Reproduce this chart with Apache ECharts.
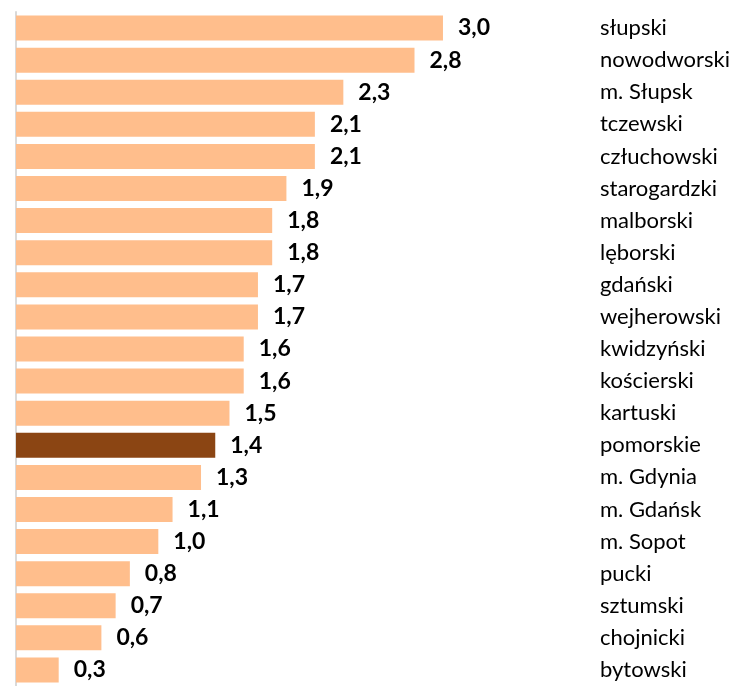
<!DOCTYPE html>
<html>
<head>
<meta charset="utf-8">
<script src="https://cdn.jsdelivr.net/npm/echarts@6/dist/echarts.min.js"></script>
<style>
  html, body { margin: 0; padding: 0; background: #ffffff; }
  #chart { width: 733px; height: 686px; }
</style>
</head>
<body>
<div id="chart"></div>
<script>
// Powiaty województwa pomorskiego, wartości wskaźnika
const categories = [
  'słupski', 'nowodworski', 'm. Słupsk', 'tczewski', 'człuchowski',
  'starogardzki', 'malborski', 'lęborski', 'gdański', 'wejherowski',
  'kwidzyński', 'kościerski', 'kartuski', 'pomorskie', 'm. Gdynia',
  'm. Gdańsk', 'm. Sopot', 'pucki', 'sztumski', 'chojnicki', 'bytowski'
];
const values = [
  3.0, 2.8, 2.3, 2.1, 2.1,
  1.9, 1.8, 1.8, 1.7, 1.7,
  1.6, 1.6, 1.5, 1.4, 1.3,
  1.1, 1.0, 0.8, 0.7, 0.6, 0.3
];
const highlighted = 'pomorskie';

const BAR = '#FFBE8C';
const BAR_HL = '#8B4513';

const chart = echarts.init(document.getElementById('chart'), null, { renderer: 'canvas' });

chart.setOption({
  animation: false,
  backgroundColor: '#ffffff',
  grid: { left: 16, top: 12, width: 427, height: 678, containLabel: false },
  xAxis: {
    type: 'value',
    min: 0,
    max: 3,
    show: false
  },
  yAxis: [
    {
      type: 'category',
      data: categories,
      inverse: true,
      position: 'left',
      axisLine: { show: true, lineStyle: { color: '#D9D9D9', width: 2 } },
      axisTick: { show: false },
      axisLabel: { show: false },
      splitLine: { show: false }
    },
    {
      type: 'category',
      data: categories,
      inverse: true,
      position: 'right',
      axisLine: { show: false },
      axisTick: { show: false },
      splitLine: { show: false },
      axisLabel: {
        show: true,
        margin: 157,
        align: 'left',
        color: '#000000',
        fontFamily: 'Lato',
        fontSize: 22
      }
    }
  ],
  series: [{
    type: 'bar',
    yAxisIndex: 0,
    barWidth: 25,
    data: values.map((v, i) => ({
      value: v,
      itemStyle: { color: categories[i] === highlighted ? BAR_HL : BAR }
    })),
    label: {
      show: true,
      position: 'right',
      distance: 15,
      color: '#000000',
      fontFamily: 'Lato',
      fontWeight: 'bold',
      fontSize: 23,
      formatter: p => p.value.toFixed(1).replace('.', ',')
    }
  }]
});
</script>
</body>
</html>
